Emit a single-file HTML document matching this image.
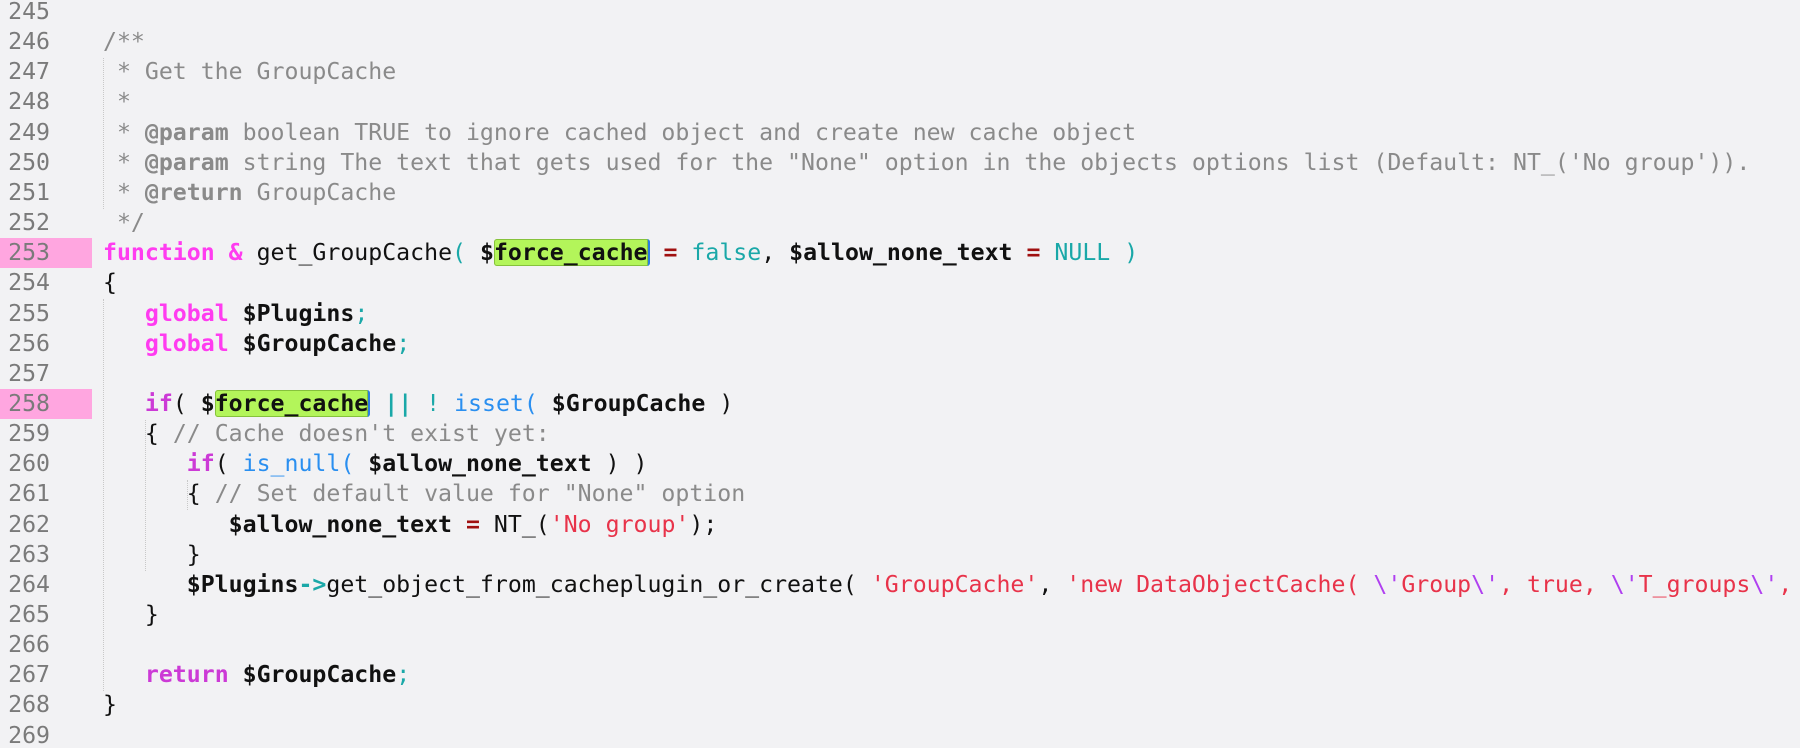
<!DOCTYPE html>
<html><head><meta charset="utf-8"><style>
html,body{margin:0;padding:0;background:#f2f2f4;width:1800px;height:748px;overflow:hidden}
body{position:relative;font-family:"DejaVu Sans Mono","Liberation Mono",monospace;font-size:23.2px}
.ln{position:absolute;left:0;width:92px;height:30px;line-height:30px}
.ln span{position:absolute;right:42px;color:#7a7a7a}
.pk{background:#ffa6e0}
.cd{position:absolute;left:103px;height:30px;line-height:30px;white-space:pre;color:#111}
.g{position:absolute;width:0;border-left:1px dotted #c8c8c8}
.c{color:#8a8a8a}.cb{color:#8a8a8a;font-weight:bold}
.kw{color:#ff3cf0;font-weight:bold}.kp{color:#cc3ad6;font-weight:bold}
.t{color:#1aa8a8}.v{font-weight:bold;color:#111}.r{color:#a01010;font-weight:bold}
.b{color:#2a8ff0}.s{color:#e8334a}.e{color:#b040f0}
.hl{background:#b3f55a;box-shadow:inset 0 0 0 1px #86c23c;border-radius:3px;border-right:2px solid #2a7de0}
</style></head><body>
<div class="g" style="left:103px;top:58px;height:151px"></div>
<div class="g" style="left:103px;top:299px;height:392px"></div>
<div class="g" style="left:145px;top:420px;height:151px"></div>
<div class="g" style="left:187px;top:480px;height:30px"></div>

<div class="ln" style="top:-3px"><span>245</span></div>
<div class="ln" style="top:27.15px"><span>246</span></div>
<div class="ln" style="top:57.3px"><span>247</span></div>
<div class="ln" style="top:87.45px"><span>248</span></div>
<div class="ln" style="top:117.6px"><span>249</span></div>
<div class="ln" style="top:147.75px"><span>250</span></div>
<div class="ln" style="top:177.9px"><span>251</span></div>
<div class="ln" style="top:208.05px"><span>252</span></div>
<div class="ln pk" style="top:238.2px"><span>253</span></div>
<div class="ln" style="top:268.35px"><span>254</span></div>
<div class="ln" style="top:298.5px"><span>255</span></div>
<div class="ln" style="top:328.65px"><span>256</span></div>
<div class="ln" style="top:358.8px"><span>257</span></div>
<div class="ln pk" style="top:388.95px"><span>258</span></div>
<div class="ln" style="top:419.1px"><span>259</span></div>
<div class="ln" style="top:449.25px"><span>260</span></div>
<div class="ln" style="top:479.4px"><span>261</span></div>
<div class="ln" style="top:509.55px"><span>262</span></div>
<div class="ln" style="top:539.7px"><span>263</span></div>
<div class="ln" style="top:569.85px"><span>264</span></div>
<div class="ln" style="top:600px"><span>265</span></div>
<div class="ln" style="top:630.15px"><span>266</span></div>
<div class="ln" style="top:660.3px"><span>267</span></div>
<div class="ln" style="top:690.45px"><span>268</span></div>
<div class="ln" style="top:720.6px"><span>269</span></div>

<div class="cd c" style="top:27.15px">/**</div>
<div class="cd c" style="top:57.3px"> * Get the GroupCache</div>
<div class="cd c" style="top:87.45px"> *</div>
<div class="cd c" style="top:117.6px"> * <span class="cb">@param</span> boolean TRUE to ignore cached object and create new cache object</div>
<div class="cd c" style="top:147.75px"> * <span class="cb">@param</span> string The text that gets used for the "None" option in the objects options list (Default: NT_('No group')).</div>
<div class="cd c" style="top:177.9px"> * <span class="cb">@return</span> GroupCache</div>
<div class="cd c" style="top:208.05px"> */</div>
<div class="cd" style="top:238.2px"><span class="kw">function</span> <span class="kw">&amp;</span> get_GroupCache<span class="t">(</span> <span class="v">$<span class="hl">force_cache</span></span> <span class="r">=</span> <span class="t">false</span>, <span class="v">$allow_none_text</span> <span class="r">=</span> <span class="t">NULL</span> <span class="t">)</span></div>
<div class="cd" style="top:268.35px">{</div>
<div class="cd" style="top:298.5px">   <span class="kw">global</span> <span class="v">$Plugins</span><span class="t">;</span></div>
<div class="cd" style="top:328.65px">   <span class="kw">global</span> <span class="v">$GroupCache</span><span class="t">;</span></div>
<div class="cd" style="top:388.95px">   <span class="kp">if</span>( <span class="v">$<span class="hl">force_cache</span></span> <span class="t" style="font-weight:bold">||</span> <span class="t">!</span> <span class="b">isset(</span> <span class="v">$GroupCache</span> )</div>
<div class="cd" style="top:419.1px">   { <span class="c">// Cache doesn't exist yet:</span></div>
<div class="cd" style="top:449.25px">      <span class="kp">if</span>( <span class="b">is_null(</span> <span class="v">$allow_none_text</span> ) )</div>
<div class="cd" style="top:479.4px">      { <span class="c">// Set default value for "None" option</span></div>
<div class="cd" style="top:509.55px">         <span class="v">$allow_none_text</span> <span class="r">=</span> NT_(<span class="s">'No group'</span>);</div>
<div class="cd" style="top:539.7px">      }</div>
<div class="cd" style="top:569.85px">      <span class="v">$Plugins</span><span class="t" style="font-weight:bold">-&gt;</span>get_object_from_cacheplugin_or_create( <span class="s">'GroupCache'</span>, <span class="s">'new DataObjectCache( <span class="e">\'</span>Group<span class="e">\'</span>, true, <span class="e">\'</span>T_groups<span class="e">\'</span>, </span></div>
<div class="cd" style="top:600px">   }</div>
<div class="cd" style="top:660.3px">   <span class="kp">return</span> <span class="v">$GroupCache</span><span class="t">;</span></div>
<div class="cd" style="top:690.45px">}</div>
</body></html>
